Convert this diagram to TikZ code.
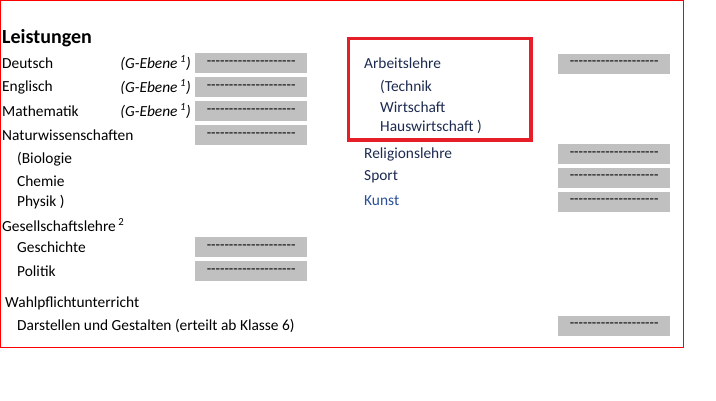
\documentclass[tikz,border=0pt]{standalone}
\usepackage{fontspec}
\setmainfont{Carlito}
\definecolor{boxred}{RGB}{230,30,40}
\definecolor{gry}{RGB}{192,192,192}
\definecolor{navy}{RGB}{28,42,80}
\definecolor{kblue}{RGB}{40,80,150}
\begin{document}
\begin{tikzpicture}[x=1pt,y=-1pt,
  txt/.style={anchor=west,inner sep=0pt,font=\fontsize{15.4}{17}\selectfont,text=black},
  rtxt/.style={txt,text=navy},
  gbox/.style={fill=gry,minimum width=112pt,minimum height=20pt,inner sep=0pt,font=\fontsize{14.5}{16}\selectfont,anchor=west}]
\useasboundingbox (0,0) rectangle (716,400);
\draw[red,line width=1pt] (0.5,0.5) rectangle (683,347);
\draw[boxred,line width=3.5pt] (348.5,38.5) rectangle (531,140);
\node[txt,font=\bfseries\fontsize{20}{22}\selectfont] (t) at (2,38) {Leistungen};
\def\dd{-{}-{}-{}-{}-{}-{}-{}-{}-{}-{}-{}-{}-{}-{}-{}-{}-{}-{}-{}-}
\node[txt] (de) at (2,63) {Deutsch};
\node[txt] (en) at (2,87) {Englisch};
\node[txt] (ma) at (2,111) {Mathematik};
\foreach \y/\n in {63/g1,87/g2,111/g3}{
  \node[txt,anchor=east] (\n) at (191,\y) {\itshape (G-Ebene\,\textsuperscript{1})};}
\node[txt] (nw) at (2,135) {Naturwissenschaften};
\node[txt] (bi) at (17,159) {(Biologie};
\node[txt] (ch) at (17,181) {Chemie};
\node[txt] (ph) at (17,202) {Physik )};
\node[txt] (gl) at (2,225) {Gesellschaftslehre\,\textsuperscript{2}};
\node[txt] (ge) at (17,247) {Geschichte};
\node[txt] (po) at (17,271) {Politik};
\node[txt] (wp) at (5,303) {Wahlpflichtunterricht};
\node[txt] (dg) at (17,326) {Darstellen und Gestalten (erteilt ab Klasse 6)};
\foreach \y/\n in {63/b1,87/b2,111/b3,135/b4,247/b5,271/b6}{
  \node[gbox] (\n) at (195,\y) {\dd};}
\node[rtxt] (al) at (364,63) {Arbeitslehre};
\node[rtxt] (te) at (380,87) {(Technik};
\node[rtxt] (wi) at (380,107) {Wirtschaft};
\node[rtxt] (hw) at (380,127) {Hauswirtschaft )};
\node[rtxt] (rl) at (364,154) {Religionslehre};
\node[rtxt] (sp) at (364,177) {Sport};
\node[txt,text=kblue] (ku) at (364,201) {Kunst};
\foreach \y/\n in {63.5/c1,154/c2,177.5/c3,201.5/c4,325.5/c5}{
  \node[gbox] (\n) at (558,\y) {\dd};}
\end{tikzpicture}
\end{document}
